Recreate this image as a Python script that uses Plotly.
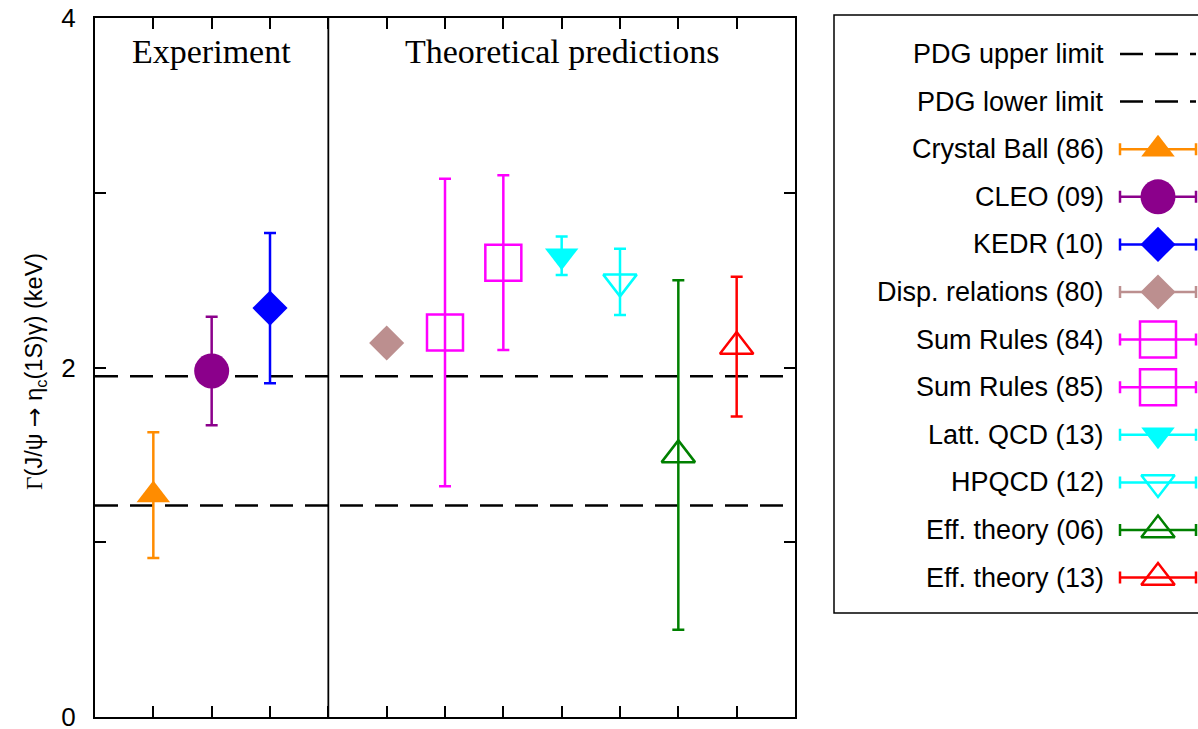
import plotly.graph_objects as go

W, H = 1198, 729

# ---- data ----
names = ["Crystal Ball (86)", "CLEO (09)", "KEDR (10)", "Disp. relations (80)",
         "Sum Rules (84)", "Sum Rules (85)", "Latt. QCD (13)", "HPQCD (12)",
         "Eff. theory (06)", "Eff. theory (13)"]
xpos = [1, 2, 3, 5, 6, 7, 8, 9, 10, 11]
values = [1.27, 1.98, 2.34, 2.14, 2.20, 2.60, 2.64, 2.49, 1.50, 2.12]
errors = [0.36, 0.31, 0.43, 0.0, 0.88, 0.50, 0.11, 0.19, 1.00, 0.40]
pdg_names = ["PDG upper limit", "PDG lower limit"]
pdg_values = [1.95, 1.21]
x_range = [0, 12]
y_range = [0, 4]
y_tickvals = [0, 1, 2, 3, 4]
y_ticktext = ["0", "", "2", "", "4"]
separator_x = 4
section_labels = ["Experiment", "Theoretical predictions"]
section_x = [2, 8]

# ---- styles ----
colors = ["#ff8c00", "#8b008b", "#0000ff", "#bc8f8f", "#ff00ff", "#ff00ff",
          "#00ffff", "#00ffff", "#008000", "#ff0000"]
symbols = ["triangle-up", "circle", "diamond", "diamond", "square-open", "square-open",
           "triangle-down", "triangle-down-open", "triangle-up-open", "triangle-up-open"]
sizes = [29, 35, 27, 27, 36, 36, 29, 29, 29, 29]
DASH = "23px,12px"
SANS = "Liberation Sans, Arial, sans-serif"
SERIF = "Liberation Serif, Times New Roman, serif"

# plot area in pixels
PL, PR, PT, PB = 95, 795, 18, 717
# legend layout (pixels)
ROW0, ROWSTEP = 54, 47.6
SAMPLE_C, SAMPLE_HW = 1158, 38
TEXT_RIGHT = 1106
BOX = dict(l=834, t=15, b=613)


def fy(py):
    """pixel row -> paper fraction"""
    return (H - py) / H


fig = go.Figure()

# PDG dashed limits
for nm, v in zip(pdg_names, pdg_values):
    fig.add_trace(go.Scatter(x=x_range, y=[v, v], mode="lines",
                             line=dict(color="black", width=2.5, dash=DASH),
                             hoverinfo="skip", xaxis="x", yaxis="y"))

# data points
for i in range(len(names)):
    fig.add_trace(go.Scatter(
        x=[xpos[i]], y=[values[i]], mode="markers", name=names[i],
        marker=dict(symbol=symbols[i], size=sizes[i], color=colors[i],
                    line=dict(color=colors[i], width=2.5 if "open" in symbols[i] else 0)),
        error_y=dict(type="data", array=[errors[i]], color=colors[i],
                     thickness=2.5, width=6, visible=errors[i] > 0),
        xaxis="x", yaxis="y", cliponaxis=False))

# ---- legend built on a helper axis pair ----
for r, nm in enumerate(pdg_names):
    fig.add_trace(go.Scatter(x=[-1, 1], y=[r, r], mode="lines",
                             line=dict(color="black", width=2.5, dash=DASH),
                             hoverinfo="skip", xaxis="x2", yaxis="y2"))
for i in range(len(names)):
    r = len(pdg_names) + i
    fig.add_trace(go.Scatter(
        x=[0], y=[r], mode="markers",
        marker=dict(symbol=symbols[i], size=sizes[i], color=colors[i],
                    line=dict(color=colors[i], width=2.5 if "open" in symbols[i] else 0)),
        error_x=dict(type="data", array=[1], color=colors[i], thickness=2.5, width=6),
        xaxis="x2", yaxis="y2", cliponaxis=False, hoverinfo="skip"))

annotations = []
for r, nm in enumerate(pdg_names + names):
    annotations.append(dict(text=nm, xref="paper", x=TEXT_RIGHT / W, xanchor="right",
                            yref="y2", y=r, yanchor="middle", showarrow=False,
                            font=dict(family=SANS, size=27, color="black")))
for lab, sx in zip(section_labels, section_x):
    annotations.append(dict(text=lab, xref="x", x=sx, yref="y", y=3.81,
                            xanchor="center", yanchor="middle", showarrow=False,
                            font=dict(family=SERIF, size=34, color="black")))
annotations.append(dict(
    text="<span style='font-family:Liberation Serif'>Γ</span>(J/ψ "
         "<span style='font-family:DejaVu Sans'>→</span> η<sub>c</sub>(1S)γ) (keV)",
    xref="paper", x=35 / W, yref="paper", y=fy(372), textangle=-90,
    xanchor="center", yanchor="middle", showarrow=False,
    font=dict(family=SANS, size=23.5, color="black")))

shapes = [
    dict(type="line", xref="x", x0=separator_x, x1=separator_x, yref="y domain", y0=0, y1=1,
         line=dict(color="black", width=1.8)),
    dict(type="rect", xref="paper", x0=BOX["l"] / W, x1=1.05,
         yref="paper", y0=fy(BOX["b"]), y1=fy(BOX["t"]),
         line=dict(color="black", width=1.5), layer="below"),
]

axis_common = dict(showgrid=False, zeroline=False, showline=True, linecolor="black",
                   linewidth=2, mirror="ticks", ticks="inside", ticklen=11,
                   tickwidth=1.5, tickcolor="black", automargin=False)

fig.update_layout(
    width=W, height=H, margin=dict(l=0, r=0, t=0, b=0, autoexpand=False),
    paper_bgcolor="white", plot_bgcolor="rgba(0,0,0,0)", showlegend=False,
    xaxis=dict(domain=[PL / W, PR / W], range=x_range,
               tickvals=xpos[:3] + [separator_x] + xpos[3:],
               showticklabels=False, **axis_common),
    yaxis=dict(domain=[fy(PB), fy(PT)], range=y_range,
               tickvals=y_tickvals, ticktext=y_ticktext, ticklabelstandoff=12,
               ticklabeloverflow="allow",
               tickfont=dict(family=SANS, size=26, color="black"), **axis_common),
    xaxis2=dict(domain=[0, 1], range=[-SAMPLE_C / SAMPLE_HW, (W - SAMPLE_C) / SAMPLE_HW],
                visible=False, anchor="y2", automargin=False),
    yaxis2=dict(domain=[0, 1], range=[(H - ROW0) / ROWSTEP, -ROW0 / ROWSTEP],
                visible=False, anchor="x2", automargin=False),
    annotations=annotations, shapes=shapes,
)

fig.write_html("out.html", config={"displayModeBar": False},
               post_script="document.body.style.margin='0px';"
                           "document.body.style.overflow='hidden';")
